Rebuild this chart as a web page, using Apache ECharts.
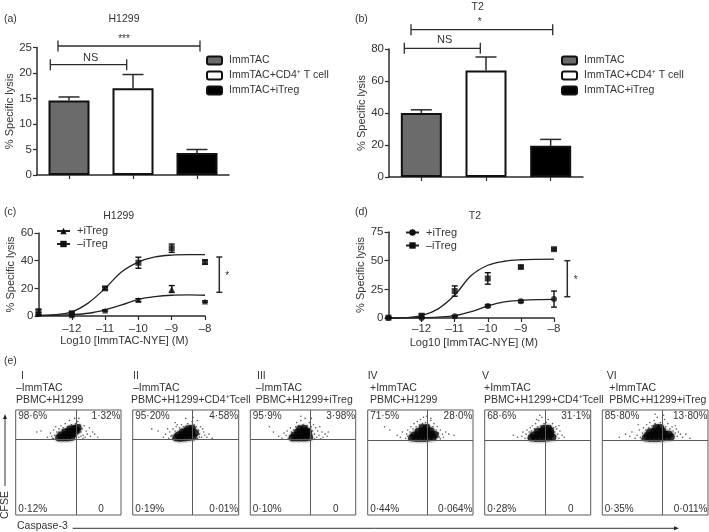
<!DOCTYPE html>
<html><head><meta charset="utf-8">
<style>html,body{margin:0;padding:0;background:#fff}#c{width:709px;height:532px}</style>
<script src="https://cdn.jsdelivr.net/npm/echarts@6/dist/echarts.min.js"></script>
</head><body><div id="c"></div>
<script>
// ---------- Data ----------
const barCats = ['ImmTAC','ImmTAC+CD4⁺ T cell','ImmTAC+iTreg'];
const aValues = [14.6, 17.0, 4.3];
const aUpper  = [15.3, 19.7, 5.0];
const bValues = [40, 66.5, 19.5];
const bUpper  = [42, 75, 23.5];

const doseTicks = [-12,-11,-10,-9,-8];
const doses = [-13,-12,-11,-10,-9,-8];
const curveX = [-13,-12.5,-12,-11.5,-11,-10.5,-10,-9.5,-9,-8.5,-8];
const cPlusCurve  = [0.3,0.6,1,2,4.5,8,12,14,15,15.2,15];
const cMinusCurve = [0.5,1,3,9.5,20,32,39,42.7,44,44.3,44.3];
const dPlusCurve  = [0,0.1,0.3,0.8,2,5.5,10.5,14,15.3,16,16.2];
const dMinusCurve = [0,0.3,2,8,20,37,46,49.5,50.8,51.2,51.3];
const cPlusMean  = [1.5,0.5,4,11.5,19.5,10.5];
const cPlusErr   = [1,1.5,0.5,1,2.5,0.5];
const cMinusMean = [3,2,20,38.5,49,39];
const cMinusErr  = [2,1,1,4,3,1.5];
const dPlusMean  = [0,0,1.5,10.5,14.5,16.5];
const dPlusErr   = [0.5,0.5,0.5,1,1,7];
const dMinusMean = [0.3,2,23.5,34.5,44.5,60];
const dMinusErr  = [0.5,1.5,4.5,5,1,1];

const flowDivX = [57.5,56.6,57.1,57.0,57.2,57.1];
const flowDivY = [71.7,71.7,71.7,71.4,71.4,71.4];
const flowTL = ['98·6%','95·20%','95·9%','71·5%','68·6%','85·80%'];
const flowTR = ['1·32%','4·58%','3·98%','28·0%','31·1%','13·80%'];
const flowBL = ['0·12%','0·19%','0·10%','0·44%','0·28%','0·35%'];
const flowBR = ['0','0·01%','0','0·064%','0','0·011%'];

const core1 = [[41,73.5],[45,73.5],[49,73.5],[53,74],[43,76],[47,76.5],[51,77],[55,77.5],[47,79],[51,79.5],[55,80],[58,80.5],[52,82],[56,82.5],[59,83]];
const fringe1 = [[30,74],[33,78],[35,73],[36,81],[37,76],[34,75],[38,84],[39,79],[41,82],[43,85],[45,83],[47,87],[49,84],[51,90],[53,86],[55,85],[57,87],[59,89],[61,86],[62,79],[63,82],[64,76],[65,85],[66,74],[67,80],[68,77],[70,83],[71,75],[73,79],[75,77],[78,74],[24,80],[20,79],[56,92],[60,92],[64,73],[60,74],[36,72.5],[41,79],[44,81],[48,82],[62,75]];
const core2 = [[41,73.5],[45,73],[49,73.5],[53,74],[57,74.5],[43,76],[47,76.5],[51,77],[55,77.5],[47,79],[51,79.5],[55,80],[59,78],[52,82],[56,82.5]];
const fringe2 = [[29,74],[31,77],[34,73],[35,79],[37,76],[38,82],[36,75],[40,80],[41,84],[43,79],[44,83],[46,86],[48,84],[50,92],[52,87],[54,85],[56,89],[58,86],[60,84],[61,90],[62,81],[63,77],[64,84],[65,74],[67,79],[68,76],[66,82],[70,74],[72,77],[40,88],[33,82],[24,80],[18,82],[61,73],[63,74],[47,81],[57,93],[38,73],[75,73],[42,86]];
const core3 = [[40,73.5],[44,73.5],[48,73.5],[52,73.5],[56,74],[42,76],[46,76.5],[50,77],[54,77],[45,79],[49,79.5],[53,80],[47,82],[51,82.5],[55,79]];
const fringe3 = [[27,75],[30,73],[32,78],[34,76],[35,80],[37,74],[38,83],[39,79],[41,81],[43,84],[44,88],[46,85],[48,90],[50,86],[52,92],[54,85],[56,88],[58,84],[59,80],[60,86],[61,77],[62,83],[63,74],[64,80],[65,76],[66,84],[68,79],[69,74],[71,77],[73,75],[74,79],[18,84],[22,79],[58,92],[48,94],[36,72.5],[61,72.5],[45,81],[57,82],[67,72.5]];
const core4 = [[42,73.5],[46,73],[50,73],[54,73],[58,73.5],[62,74],[44,76],[48,76.5],[52,76.5],[56,77],[60,77],[64,76.5],[48,79.5],[52,80],[56,80],[60,80],[52,83],[56,83]];
const fringe4 = [[28,76],[31,74],[33,79],[36,73],[37,77],[38,81],[40,79],[41,84],[43,82],[44,87],[46,84],[47,89],[49,86],[50,91],[52,87],[53,93],[55,88],[56,94],[58,86],[60,90],[62,84],[63,87],[65,81],[66,84],[67,78],[68,74],[69,81],[71,77],[72,74],[74,79],[77,77],[82,76],[21,81],[16,84],[38,75],[39,72.5],[69,72.5],[46,81],[60,92]];
const core5 = [[44,73.5],[48,73],[52,73],[56,73],[60,73.5],[64,74],[46,76],[50,76.5],[54,77],[58,77],[62,77],[50,79.5],[54,80],[58,80],[62,80],[56,82.5],[60,82.5]];
const fringe5 = [[27,76],[31,74],[35,75],[36,79],[38,73],[39,77],[40,81],[42,79],[43,83],[45,85],[47,82],[48,87],[50,84],[51,90],[53,85],[54,93],[56,87],[58,88],[60,91],[62,85],[64,87],[65,83],[66,79],[67,75],[68,82],[69,77],[70,73],[71,80],[73,76],[75,74],[41,73],[44,80],[49,91],[52,95],[67,84],[70,85],[60,85],[46,73]];
const core6 = [[41,73.5],[45,73],[49,73],[53,73],[57,73.5],[61,74],[65,74.5],[43,76],[47,76.5],[51,77],[55,77],[59,77],[63,77],[45,79],[49,79.5],[53,80],[57,80],[51,83],[55,83]];
const fringe6 = [[16,74],[22,77],[26,75],[28,79],[31,73],[33,76],[35,81],[36,74],[38,78],[39,83],[41,81],[42,86],[44,83],[45,88],[47,85],[49,90],[50,87],[52,93],[53,86],[55,88],[57,85],[59,91],[60,84],[62,87],[64,82],[66,84],[67,80],[69,78],[70,82],[71,75],[72,79],[74,77],[76,74],[79,77],[83,73],[34,86],[50,96],[58,95],[37,72.5],[69,85]];
const flowCores = [core1,core2,core3,core4,core5,core6];
const flowFringes = [fringe1,fringe2,fringe3,fringe4,fringe5,fringe6];

// ---------- Style ----------
const FF = '"Liberation Sans", Arial, sans-serif';
const INK = '#2b2b2b', TXT = '#333', BOX = '#5a5a5a';
const barColors = ['#6b6b6b','#ffffff','#000000'];
const axisLine = {show:true,onZero:false,lineStyle:{color:INK,width:1.5}};
const axisTick = {show:true,length:4,lineStyle:{color:INK,width:1.2}};
const axisLabel = {color:TXT,fontFamily:FF,fontSize:11.5,margin:5};

const grids=[], xAxes=[], yAxes=[], series=[], legends=[], gfx=[];

// ---------- Panels a, b ----------
function barPanel(tag, box, max, step, vals, upper, legendLeft, nameGap){
  const gi = grids.length;
  grids.push(box);
  xAxes.push({gridIndex:gi,type:'category',data:barCats,axisLine,axisTick:{...axisTick,alignWithLabel:true,interval:0},axisLabel:{show:false,interval:0}});
  yAxes.push({gridIndex:gi,type:'value',min:0,max,interval:step,splitLine:{show:false},axisLine,axisTick,axisLabel,
    name:'% Specific lysis',nameLocation:'middle',nameGap,nameTextStyle:{color:TXT,fontFamily:FF,fontSize:11}});
  series.push({type:'custom',xAxisIndex:gi,yAxisIndex:gi,silent:true,z:1,clip:false,
    data:vals.map((v,i)=>[i,v,upper[i]]),
    renderItem(p,api){
      const a=api.coord([api.value(0),api.value(1)]), b=api.coord([api.value(0),api.value(2)]);
      const ls={stroke:INK,lineWidth:1.5};
      return {type:'group',children:[
        {type:'line',shape:{x1:a[0],y1:a[1],x2:b[0],y2:b[1]},style:ls},
        {type:'line',shape:{x1:b[0]-10.5,y1:b[1],x2:b[0]+10.5,y2:b[1]},style:ls}]};
    }});
  const names=[];
  barCats.forEach((c,i)=>{
    const nm=tag+':'+c; names.push(nm);
    series.push({type:'bar',name:nm,xAxisIndex:gi,yAxisIndex:gi,stack:tag,barWidth:41,z:2,
      data:vals.map((v,j)=>j===i?v:null),
      itemStyle:{color:barColors[i],borderColor:'#111',borderWidth:2}});
  });
  legends.push({data:names,orient:'vertical',left:legendLeft,top:55,padding:0,itemGap:4,itemWidth:15,itemHeight:8,
    selectedMode:false,formatter:n=>n.slice(n.indexOf(':')+1),
    textStyle:{color:TXT,fontFamily:FF,fontSize:10.5,padding:[0,0,0,2]}});
}
barPanel('a',{left:37,top:47.5,width:192,height:127.5},25,5,aValues,aUpper,206,22);
barPanel('b',{left:389,top:49,width:194,height:128},80,20,bValues,bUpper,561,19);

// ---------- Panels c, d ----------
function dosePanel(tag, box, max, step, plusCurve, minusCurve, plusMean, plusErr, minusMean, minusErr, plusSym, legendLeft, legendTop, labelMargin, nameGapY){
  const gi = grids.length;
  grids.push(box);
  xAxes.push({gridIndex:gi,type:'value',min:-13,max:-8,interval:1,splitLine:{show:false},axisLine,
    axisTick:{...axisTick,customValues:doseTicks},
    axisLabel:{...axisLabel,margin:labelMargin,customValues:doseTicks,formatter:v=>'–'+Math.abs(v)},
    name:'Log10 [ImmTAC-NYE] (M)',nameLocation:'middle',nameGap:19,
    nameTextStyle:{color:TXT,fontFamily:FF,fontSize:11,padding:[0,0,0,5]}});
  yAxes.push({gridIndex:gi,type:'value',min:0,max,interval:step,splitLine:{show:false},axisLine,axisTick,axisLabel,
    name:'% Specific lysis',nameLocation:'middle',nameGap:nameGapY,nameTextStyle:{color:TXT,fontFamily:FF,fontSize:11}});
  const sets=[['+iTreg',plusCurve,plusMean,plusErr,plusSym],['–iTreg',minusCurve,minusMean,minusErr,'rect']];
  const names=[];
  sets.forEach(([lab,curve,mean,err,sym])=>{
    const nm=tag+':'+lab; names.push(nm);
    series.push({type:'line',name:nm,xAxisIndex:gi,yAxisIndex:gi,smooth:0.35,symbol:sym,symbolSize:5,clip:false,z:3,
      data:curve.map((y,i)=>({value:[curveX[i],y],symbol:'none'})),
      lineStyle:{color:'#222',width:1.3},itemStyle:{color:'#111'}});
    series.push({type:'scatter',name:tag+' points '+lab,xAxisIndex:gi,yAxisIndex:gi,symbol:sym,symbolSize:6,clip:false,z:4,
      data:mean.map((y,i)=>[doses[i],y]),itemStyle:{color:'#111'}});
    series.push({type:'custom',xAxisIndex:gi,yAxisIndex:gi,silent:true,clip:false,z:4,
      data:mean.map((y,i)=>[doses[i],Math.max(0,y-err[i]),y+err[i]]),
      renderItem(p,api){
        const a=api.coord([api.value(0),api.value(1)]), b=api.coord([api.value(0),api.value(2)]);
        const ls={stroke:'#111',lineWidth:1.4};
        return {type:'group',children:[
          {type:'line',shape:{x1:a[0],y1:a[1],x2:b[0],y2:b[1]},style:ls},
          {type:'line',shape:{x1:a[0]-3,y1:a[1],x2:a[0]+3,y2:a[1]},style:ls},
          {type:'line',shape:{x1:b[0]-3,y1:b[1],x2:b[0]+3,y2:b[1]},style:ls}]};
      }});
  });
  legends.push({data:names,orient:'vertical',left:legendLeft,top:legendTop,padding:0,itemGap:2,itemWidth:13,itemHeight:8,
    selectedMode:false,formatter:n=>n.slice(n.indexOf(':')+1),
    textStyle:{color:TXT,fontFamily:FF,fontSize:11,padding:[0,0,0,2]}});
}
dosePanel('c',{left:38.5,top:233,width:166.5,height:83},60,20,cPlusCurve,cMinusCurve,cPlusMean,cPlusErr,cMinusMean,cMinusErr,'triangle',56,225.5,7,21);
dosePanel('d',{left:388.5,top:232,width:165.5,height:86},75,25,dPlusCurve,dMinusCurve,dPlusMean,dPlusErr,dMinusMean,dMinusErr,'circle',405,227,5,20);

// ---------- Panel e ----------
const flowBoxes=[[15.7,121],[132.7,238.7],[250.3,355.7],[367.7,473],[484.7,590.7],[602.3,708]];
flowBoxes.forEach((b,k)=>{
  const gi=grids.length, top=410, h=105;
  grids.push({left:b[0],top,width:b[1]-b[0],height:h,show:true,borderColor:BOX,borderWidth:1,backgroundColor:'transparent'});
  const ax={gridIndex:gi,type:'value',min:0,max:100,axisLine:{show:false},axisTick:{show:false},axisLabel:{show:false},splitLine:{show:false}};
  xAxes.push(ax); yAxes.push({...ax});
  series.push({type:'scatter',xAxisIndex:gi,yAxisIndex:gi,silent:true,symbol:'circle',symbolSize:1.6,z:2,
    data:flowFringes[k],itemStyle:{color:'#333'},
    markLine:{silent:true,symbol:'none',label:{show:false},animation:false,
      lineStyle:{color:BOX,width:1,type:'solid'},
      data:[{xAxis:flowDivX[k]},{yAxis:flowDivY[k]}]}});
  series.push({type:'scatter',xAxisIndex:gi,yAxisIndex:gi,silent:true,symbol:'circle',symbolSize:11,z:2,
    data:flowCores[k],itemStyle:{color:'#000',opacity:0.1}});
  series.push({type:'scatter',xAxisIndex:gi,yAxisIndex:gi,silent:true,symbol:'circle',symbolSize:7.5,z:3,
    data:flowCores[k],itemStyle:{color:'#050505'}});
  const T=(s,x,y,al)=>gfx.push({type:'text',x,y,silent:true,style:{text:s,font:'10px '+FF,fill:TXT,textAlign:al,textVerticalAlign:'middle'}});
  T(flowTL[k],b[0]+2.5,416.5,'left'); T(flowTR[k],b[1]-0.5,416.5,'right');
  T(flowBL[k],b[0]+2.5,509,'left');
  if(flowBR[k]==='0') T('0',b[1]-20,509,'center'); else T(flowBR[k],b[1]-0.5,509,'right');
});

// ---------- Text and annotations ----------
function txt(s,x,y,al,size,rot){
  gfx.push({type:'text',x,y,rotation:rot||0,silent:true,
    style:{text:s,font:(size||10.5)+'px '+FF,fill:TXT,textAlign:al||'left',textVerticalAlign:'middle'}});
}
function seg(x1,y1,x2,y2,w,c){
  gfx.push({type:'line',silent:true,shape:{x1,y1,x2,y2},style:{stroke:c||INK,lineWidth:w||1.3}});
}
function hBracket(x1,x2,y){seg(x1,y,x2,y);seg(x1,y-5.5,x1,y+5.5);seg(x2,y-5.5,x2,y+5.5);}
function vBracket(x,y1,y2){seg(x,y1,x,y2,1.5);seg(x-3,y1,x+3,y1,1.5);seg(x-3,y2,x+3,y2,1.5);}

txt('(a)',4,19.5); txt('H1299',124,19.5,'center');
hBracket(58,200,46); txt('***',124,39,'center',10); hBracket(50.3,126.7,64.7); txt('NS',90.7,57.7,'center',11);
txt('(b)',355,19.5); txt('T2',477.7,7,'center');
hBracket(411,552.7,29.7); txt('*',479.7,22,'center',10); hBracket(404.3,480.3,48.3); txt('NS',444.7,40,'center',11);
txt('(c)',4,212); txt('H1299',118.7,216,'center');
vBracket(219.3,257,292.3); txt('*',227.3,276,'center',10);
txt('(d)',355,212); txt('T2',475,216.5,'center');
vBracket(567.3,260.7,296.7); txt('*',575.7,280,'center',10);
txt('(e)',4,361);

const headRoman=['I','II','III','IV','V','VI'];
const headDrug=['–ImmTAC','–ImmTAC','–ImmTAC','+ImmTAC','+ImmTAC','+ImmTAC'];
const headMix=['PBMC+H1299','PBMC+H1299+CD4⁺Tcell','PBMC+H1299+iTreg','PBMC+H1299','PBMC+H1299+CD4⁺Tcell','PBMC+H1299+iTreg'];
const romanX=[21,133,257,367.7,482,606.7], drugX=[16,133,255.7,370,484,609.3], mixX=[16,131,255.7,370,484,609.3];
headRoman.forEach((r,i)=>{
  txt(r,romanX[i],376.5);
  txt(headDrug[i],drugX[i],388);
  txt(headMix[i],mixX[i],400);
});
txt('CFSE',5,505,'center',10.5,Math.PI/2);
seg(5,418,5,486,1,'#333');
gfx.push({type:'polygon',silent:true,shape:{points:[[5,414],[3,419],[7,419]]},style:{fill:'#222'}});
txt('Caspase-3',17,526,'left',10.5);
seg(72.7,528.3,676,528.3,1,'#333');
gfx.push({type:'polygon',silent:true,shape:{points:[[679,528.3],[674,526.3],[674,530.3]]},style:{fill:'#222'}});

const chart=echarts.init(document.getElementById('c'),null,{renderer:'canvas'});
chart.setOption({animation:false,backgroundColor:'#fff',textStyle:{fontFamily:FF},
  grid:grids,xAxis:xAxes,yAxis:yAxes,series,legend:legends,graphic:{elements:gfx}});
</script></body></html>
